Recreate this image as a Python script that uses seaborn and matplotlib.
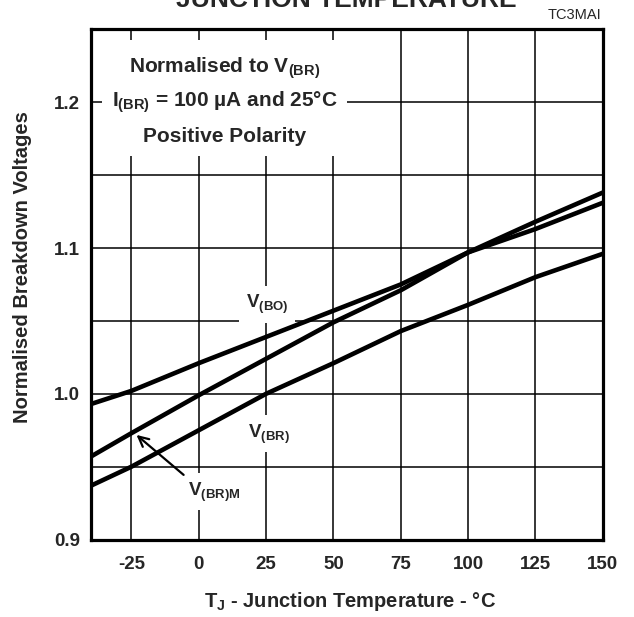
import pandas as pd
import seaborn as sns
import matplotlib.pyplot as plt
from matplotlib.patches import Rectangle

# values (normalised to V(BR) at 25 degC)
temps = [-40, -25, 0, 25, 50, 75, 100, 125, 150]
v_bo = [0.993, 1.002, 1.021, 1.039, 1.057, 1.075, 1.097, 1.113, 1.131]
v_brm = [0.957, 0.973, 0.999, 1.024, 1.049, 1.071, 1.097, 1.118, 1.138]
v_br = [0.937, 0.950, 0.975, 1.000, 1.021, 1.043, 1.061, 1.080, 1.096]

x_ticks = [-25, 0, 25, 50, 75, 100, 125, 150]
y_ticks = [0.9, 1.0, 1.1, 1.2]
y_minor = [0.95, 1.05, 1.15]

sns.set_style("white")
plt.rcParams['font.family'] = ['Liberation Sans', 'DejaVu Sans']
plt.rcParams['font.weight'] = 'bold'
plt.rcParams['mathtext.fontset'] = 'custom'
plt.rcParams['mathtext.rm'] = 'Liberation Sans:bold'
plt.rcParams['mathtext.bf'] = 'Liberation Sans:bold'
plt.rcParams['mathtext.it'] = 'Liberation Sans:bold'
plt.rcParams['mathtext.default'] = 'rm'

df = pd.DataFrame({
    "temp": temps * 3,
    "value": v_bo + v_brm + v_br,
    "curve": ["V(BO)"] * len(temps) + ["V(BR)M"] * len(temps) + ["V(BR)"] * len(temps),
})

fig = plt.figure(figsize=(6.34, 6.17), dpi=100)
ax = fig.add_axes([0.1435, 0.1254, 0.8071, 0.8271])

sns.lineplot(data=df, x="temp", y="value", units="curve", estimator=None,
             color="black", lw=3.3, ax=ax, zorder=4)

ax.set_xlim(-40, 150)
ax.set_ylim(0.9, 1.25)
ax.set_xticks(x_ticks)
ax.set_xticklabels([str(t) for t in x_ticks], fontsize=13.5, fontweight='bold')
ax.set_yticks(y_ticks)
ax.set_yticklabels([f"{v:.1f}" for v in y_ticks], fontsize=13.5, fontweight='bold')
ax.set_yticks(y_minor, minor=True)
ax.tick_params(axis='both', which='both', length=0)
ax.tick_params(axis='x', pad=12)
ax.tick_params(axis='y', pad=8)
ax.grid(True, which='both', color='black', lw=1.1)
ax.set_axisbelow(True)
for s in ax.spines.values():
    s.set_linewidth(2.3)
    s.set_color('black')
ax.set_xlabel("")
ax.set_ylabel("")

# white panel behind the condition text
ax.add_patch(Rectangle((0.0215, 0.7517), 0.4788, 0.2272, transform=ax.transAxes,
                       facecolor='white', edgecolor='none', zorder=1.5))
ax.text(9.7, 1.2203, r"Normalised to V$_{(BR)}$", ha='center', va='baseline',
        fontsize=15, fontweight='bold', zorder=3)
ax.text(9.7, 1.1969, r"I$_{(BR)}$ = 100 µA and 25°C", ha='center', va='baseline',
        fontsize=15, fontweight='bold', zorder=3)
ax.text(9.7, 1.1729, "Positive Polarity", ha='center', va='baseline',
        fontsize=15, fontweight='bold', zorder=3)

box = dict(facecolor='white', edgecolor='none', pad=5)
ax.text(25.3, 1.061, r"V$_{(BO)}$", ha='center', va='center', fontsize=13.5,
        fontweight='bold', bbox=box, zorder=3)
ax.text(25.9, 0.9725, r"V$_{(BR)}$", ha='center', va='center', fontsize=13.5,
        fontweight='bold', bbox=box, zorder=3)
ax.text(5.7, 0.9327, r"V$_{(BR)M}$", ha='center', va='center', fontsize=13.5,
        fontweight='bold', bbox=box, zorder=3)
ax.annotate("", xy=(-23.1, 0.9718), xytext=(-5.6, 0.9444),
            arrowprops=dict(arrowstyle='->', lw=1.6, color='black',
                            mutation_scale=18, shrinkA=0, shrinkB=0), zorder=5)

fig.text(0.547, 0.9887, "JUNCTION TEMPERATURE", ha='center', va='baseline',
         fontsize=19, fontweight='bold')
fig.text(0.948, 0.9684, "TC3MAI", ha='right', va='baseline', fontsize=10.5,
         fontweight='normal')
fig.text(0.552, 0.016, r"T$_{J}$ - Junction Temperature - °C", ha='center',
         va='baseline', fontsize=14.5, fontweight='bold')
fig.text(0.035, 1 - 266.7 / 617, "Normalised Breakdown Voltages", ha='center',
         va='center', rotation=90, fontsize=14.5, fontweight='bold')

fig.savefig("out.png", dpi=100)
